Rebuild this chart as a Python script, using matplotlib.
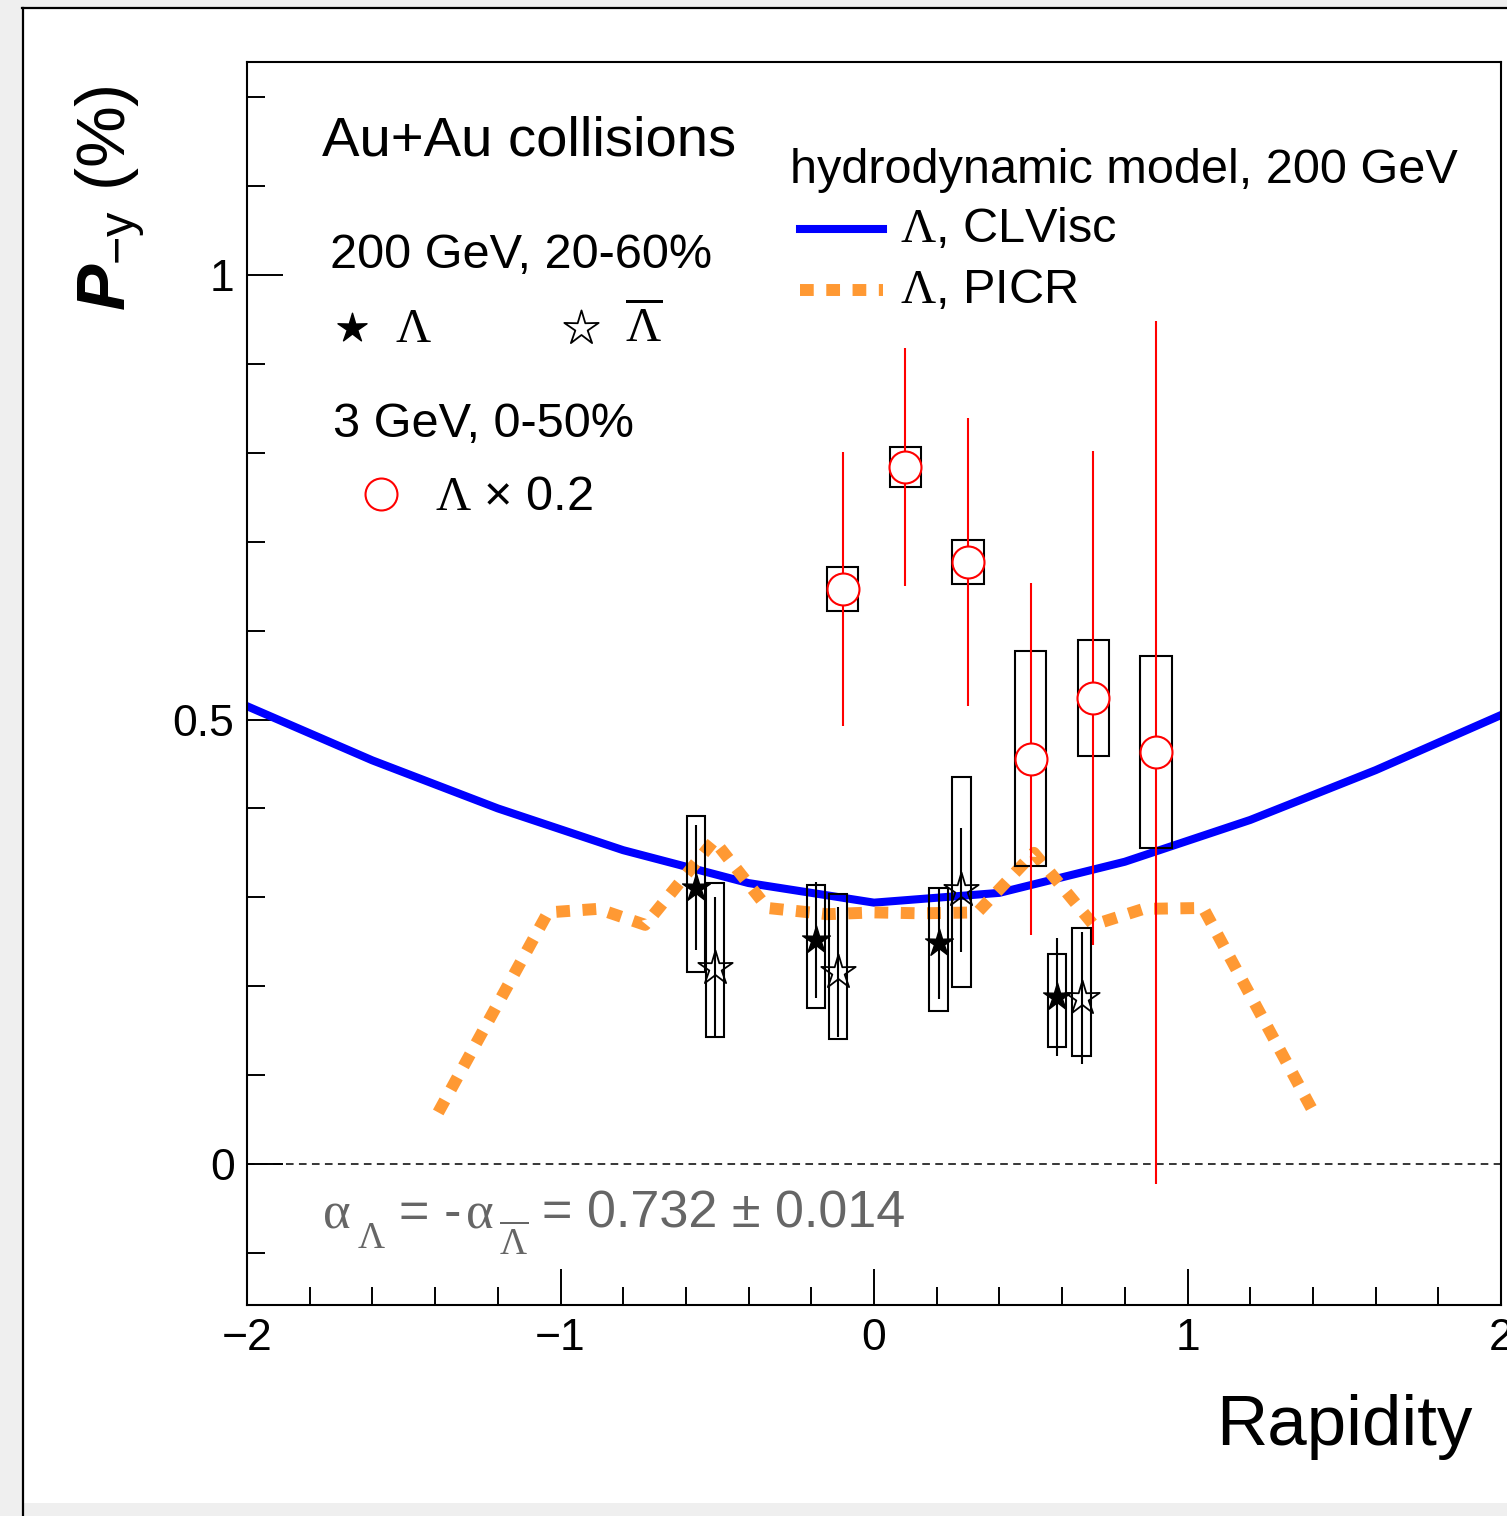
import numpy as np
import matplotlib
matplotlib.use('Agg')
import matplotlib.pyplot as plt
from matplotlib.lines import Line2D
from matplotlib.patches import Rectangle
from matplotlib.path import Path
from matplotlib.ticker import MultipleLocator

# hydro model curves, 200 GeV
clvisc_y = [-2.0, -1.6, -1.2, -0.8, -0.4, 0.0, 0.4, 0.8, 1.2, 1.6, 2.0]
clvisc_p = [0.515, 0.454, 0.400, 0.353, 0.316, 0.294, 0.305, 0.340, 0.387, 0.443, 0.505]

picr_y = [-1.39, -1.04, -0.88, -0.73, -0.51, -0.34, -0.15, 0.0, 0.15, 0.33, 0.51, 0.70, 0.86, 1.05, 1.41]
picr_p = [0.058, 0.283, 0.287, 0.269, 0.364, 0.288, 0.281, 0.283, 0.282, 0.283, 0.350, 0.269, 0.287, 0.288, 0.053]

# 200 GeV, 20-60%, Lambda
lam_y = [-0.568, -0.185, 0.207, 0.584]
lam_p = [0.311, 0.252, 0.249, 0.188]
lam_stat = [0.070, 0.065, 0.063, 0.066]
lam_sys_lo = [0.095, 0.077, 0.077, 0.056]
lam_sys_hi = [0.080, 0.062, 0.061, 0.048]

# 200 GeV, 20-60%, anti-Lambda
alam_y = [-0.507, -0.115, 0.278, 0.663]
alam_p = [0.221, 0.216, 0.308, 0.187]
alam_stat = [0.079, 0.073, 0.070, 0.074]
alam_sys_lo = [0.078, 0.075, 0.109, 0.065]
alam_sys_hi = [0.095, 0.088, 0.127, 0.079]

# 3 GeV, 0-50%, Lambda x 0.2
gev3_y = [-0.1, 0.1, 0.3, 0.5, 0.7, 0.9]
gev3_p = [0.647, 0.784, 0.677, 0.456, 0.524, 0.463]
gev3_stat = [0.154, 0.134, 0.162, 0.198, 0.278, 0.485]
gev3_sys = [0.025, 0.023, 0.025, 0.121, 0.065, 0.108]

W, H = 1507, 1516


def fx(px):
    return px / W


def fy(py):
    return 1 - py / H


def star_path(r_in=0.36):
    verts = []
    for k in range(5):
        a = np.deg2rad(90 + 72 * k)
        verts.append((np.cos(a), np.sin(a)))
        b = np.deg2rad(90 + 36 + 72 * k)
        verts.append((r_in * np.cos(b), r_in * np.sin(b)))
    verts.append(verts[0])
    codes = [Path.MOVETO] + [Path.LINETO] * 9 + [Path.CLOSEPOLY]
    return Path(verts, codes)


plt.rcParams['font.family'] = ['Liberation Sans', 'DejaVu Sans']
plt.rcParams['mathtext.fontset'] = 'custom'
plt.rcParams['mathtext.rm'] = 'Liberation Serif'
plt.rcParams['mathtext.sf'] = 'Liberation Sans'
plt.rcParams['mathtext.it'] = 'Liberation Sans:italic:bold'
plt.rcParams['mathtext.default'] = 'rm'

STAR = star_path()
ORANGE = '#ff9933'
GRAY = '#666666'

fig = plt.figure(figsize=(15.07, 15.16), dpi=100)
fig.patch.set_facecolor('#efefef')
fig.add_artist(Rectangle((fx(22), fy(1503)), 1.2, fy(8) - fy(1503),
                         transform=fig.transFigure, fc='white', ec='none', zorder=-10))
fig.add_artist(Line2D([fx(22), 1.0], [fy(8), fy(8)], transform=fig.transFigure,
                      color='black', lw=1.6, zorder=-5))
fig.add_artist(Line2D([fx(23), fx(23)], [0, fy(8)], transform=fig.transFigure,
                      color='black', lw=1.6, zorder=-5))

ax = fig.add_axes([fx(247), fy(1305), fx(1501) - fx(247), fy(62) - fy(1305)])
ax.set_xlim(-2, 2)
ax.set_ylim(-0.1586, 1.2396)

# model curves
ax.plot(clvisc_y, clvisc_p, color='#0000ff', lw=5.8, zorder=2)
ax.plot(picr_y, picr_p, color=ORANGE, lw=8.6, ls=(0, (1.15, 1.05)),
        dash_capstyle='butt', zorder=2)
ax.axhline(0, color='black', lw=1.1, ls=(0, (5, 3.5)), zorder=1)

# 200 GeV data
box_w = 0.03
for xs, ps, lo, hi in [(lam_y, lam_p, lam_sys_lo, lam_sys_hi),
                       (alam_y, alam_p, alam_sys_lo, alam_sys_hi)]:
    for xi, pi, l, h in zip(xs, ps, lo, hi):
        ax.add_patch(Rectangle((xi - box_w, pi - l), 2 * box_w, l + h,
                               fill=False, ec='black', lw=1.5, zorder=3))
ax.errorbar(lam_y, lam_p, yerr=lam_stat, fmt='none', ecolor='black',
            elinewidth=1.5, zorder=3)
ax.errorbar(alam_y, alam_p, yerr=alam_stat, fmt='none', ecolor='black',
            elinewidth=1.5, zorder=3)
ax.plot(lam_y, lam_p, ls='none', marker=STAR, ms=21, mfc='black',
        mec='black', mew=1.0, zorder=4)
ax.plot(alam_y, alam_p, ls='none', marker=STAR, ms=26, mfc='none',
        mec='black', mew=1.3, zorder=4)

# 3 GeV data
box_w3 = 0.05
for xi, pi, s in zip(gev3_y, gev3_p, gev3_sys):
    ax.add_patch(Rectangle((xi - box_w3, pi - s), 2 * box_w3, 2 * s,
                           fill=False, ec='black', lw=1.5, zorder=3))
ax.errorbar(gev3_y, gev3_p, yerr=gev3_stat, fmt='none', ecolor='#ff0000',
            elinewidth=1.5, zorder=3)
ax.plot(gev3_y, gev3_p, ls='none', marker='o', ms=23, mfc='white',
        mec='#ff0000', mew=1.5, zorder=4)

# axes style
for sp in ax.spines.values():
    sp.set_linewidth(1.5)
ax.set_xticks([-2, -1, 0, 1, 2])
ax.xaxis.set_minor_locator(MultipleLocator(0.2))
ax.set_yticks([0, 0.5, 1])
ax.set_yticklabels(['0', '0.5', '1'])
ax.yaxis.set_minor_locator(MultipleLocator(0.1))
ax.tick_params(which='both', direction='in', top=False, right=False,
               width=1.4, labelsize=32)
ax.tick_params(which='major', length=26)
ax.tick_params(which='minor', length=13)
ax.tick_params(axis='x', pad=9)
ax.tick_params(axis='y', pad=9)

# titles
fig.text(fx(1472), fy(1445), 'Rapidity', fontsize=51, ha='right', va='baseline')
fig.text(fx(110), fy(198), r'$\mathit{P}_{\mathsf{-y}}$ (%)', fontsize=50,
         rotation=90, ha='center', va='center')

# legend texts
fig.text(fx(322), fy(155), 'Au+Au collisions', fontsize=40.5, va='baseline')
fig.text(fx(330), fy(268), '200 GeV, 20-60%', fontsize=35, va='baseline')
fig.text(fx(395), fy(342), r'$\Lambda$', fontsize=35, va='baseline')
fig.text(fx(625), fy(342), r'$\overline{\Lambda}$', fontsize=35, va='baseline')
fig.text(fx(333), fy(437), '3 GeV, 0-50%', fontsize=35, va='baseline')
fig.text(fx(435), fy(510), r'$\Lambda$ × 0.2', fontsize=35, va='baseline')
fig.text(fx(790), fy(183), 'hydrodynamic model, 200 GeV', fontsize=35, va='baseline')
fig.text(fx(900), fy(242), r'$\Lambda$, CLVisc', fontsize=35, va='baseline')
fig.text(fx(900), fy(303), r'$\Lambda$, PICR', fontsize=35, va='baseline')

# decay parameter note, built from pieces to mimic the lowered subscripts
fig.text(fx(322), fy(1228), r'$\alpha$', fontsize=38, color=GRAY, va='baseline')
fig.text(fx(357), fy(1248), r'$\Lambda$', fontsize=27, color=GRAY, va='baseline')
fig.text(fx(399), fy(1228), '= -', fontsize=37.5, color=GRAY, va='baseline')
fig.text(fx(465), fy(1228), r'$\alpha$', fontsize=38, color=GRAY, va='baseline')
fig.text(fx(499), fy(1255), r'$\overline{\Lambda}$', fontsize=27, color=GRAY,
         va='baseline')
fig.text(fx(542), fy(1228), '= 0.732 ± 0.014', fontsize=37.5, color=GRAY,
         va='baseline')

# legend symbols
fig.add_artist(Line2D([fx(352)], [fy(328)], transform=fig.transFigure, ls='none',
                      marker=STAR, ms=22, mfc='black', mec='black', mew=1.0))
fig.add_artist(Line2D([fx(581)], [fy(328)], transform=fig.transFigure, ls='none',
                      marker=STAR, ms=26, mfc='none', mec='black', mew=1.3))
fig.add_artist(Line2D([fx(381)], [fy(494)], transform=fig.transFigure, ls='none',
                      marker='o', ms=23, mfc='white', mec='#ff0000', mew=1.5))
fig.add_artist(Line2D([fx(800), fx(883)], [fy(229), fy(229)],
                      transform=fig.transFigure, color='#0000ff', lw=5.8))
fig.add_artist(Line2D([fx(800), fx(883)], [fy(290), fy(290)],
                      transform=fig.transFigure, color=ORANGE, lw=8.6,
                      ls=(0, (1.15, 1.05)), dash_capstyle='butt'))

fig.savefig('out.png', dpi=100)
